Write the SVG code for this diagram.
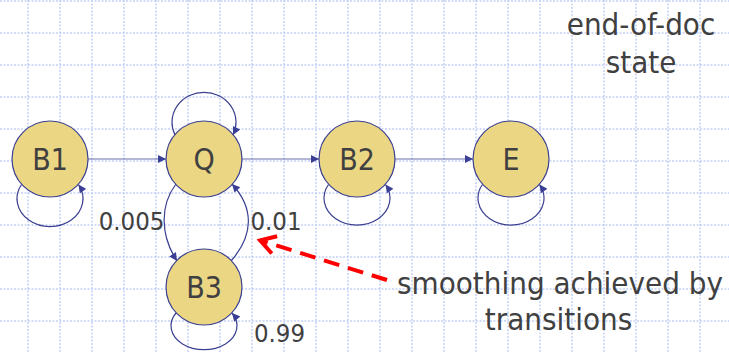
<svg xmlns="http://www.w3.org/2000/svg" width="729" height="352" viewBox="0 0 729 352">
<style>
.grid{stroke:#c4d0f6;stroke-width:1.5;stroke-dasharray:2 1.5;fill:none}
.node circle{fill:#ebd684;stroke:#3b4090;stroke-width:1.2}
.lbl{font-family:"DejaVu Sans Condensed","Liberation Sans",sans-serif;fill:#404040;text-anchor:middle}
.nl{font-size:30px}
.num{font-size:25.5px}
.big{font-size:31px}
.edge{fill:none;stroke:#3b4090;stroke-width:1.2;marker-end:url(#ah)}
.straight{stroke:#6a6fae}
.red{fill:none;stroke:#ff0000;stroke-width:4;stroke-dasharray:16 9;marker-end:url(#rh)}
</style>
<defs>
<marker id="ah" viewBox="0 0 10 10" refX="10" refY="5" markerUnits="userSpaceOnUse" markerWidth="9" markerHeight="8" orient="auto">
<path d="M0,0 L10,5 L0,10 z" fill="#3a3f95"/>
</marker>
<marker id="rh" viewBox="0 0 22 24" refX="16" refY="12" markerUnits="userSpaceOnUse" markerWidth="22" markerHeight="24" orient="auto">
<path d="M4,3 L19,12 L4,21" fill="none" stroke="#ff0000" stroke-width="4" stroke-linecap="butt" stroke-linejoin="miter"/>
</marker>
</defs>
<rect width="729" height="352" fill="#ffffff"/>
<g id="grid">
<path class="grid" d="M0,1H729M0,33H729M0,65H729M0,97H729M0,129H729M0,161H729M0,193H729M0,225H729M0,257H729M0,289H729M0,321H729"/>
<path class="grid" d="M28,0V352M60,0V352M92,0V352M124,0V352M156,0V352M188,0V352M220,0V352M252,0V352M284,0V352M316,0V352M348,0V352M380,0V352M412,0V352M444,0V352M476,0V352M508,0V352M540,0V352M572,0V352M604,0V352M636,0V352M668,0V352M700,0V352"/>
</g>
<g id="connectors">
<path class="edge straight" d="M88,159 L166,159"/>
<path class="edge straight" d="M242,159 L319,159"/>
<path class="edge straight" d="M395,159 L473,159"/>
<path class="edge" d="M21.5,184.5 A33 28 0 1 0 78.5,184.5"/>
<path class="edge" d="M175,135 A32 30 0 1 1 233,135"/>
<path class="edge" d="M328.5,184.5 A33 27 0 1 0 385.5,184.5"/>
<path class="edge" d="M482.5,184.5 A33 27 0 1 0 539.5,184.5"/>
<path class="edge" d="M176,313 A33 24 0 1 0 232,313"/>
<path class="edge" d="M176,184 C160,205 160,235 177,261"/>
<path class="edge" d="M231,261 C254,235 254,208 232,184"/>
<path class="red" d="M387,280 L263,241.3"/>
</g>
<g id="node-B1" class="node"><circle cx="50" cy="159" r="38"/><text class="lbl nl" x="50" y="170">B1</text></g>
<g id="node-Q" class="node"><circle cx="204" cy="159" r="38"/><text class="lbl nl" x="204" y="170">Q</text></g>
<g id="node-B2" class="node"><circle cx="357" cy="159" r="38"/><text class="lbl nl" x="357" y="170">B2</text></g>
<g id="node-E" class="node"><circle cx="511" cy="159" r="38"/><text class="lbl nl" x="511" y="170">E</text></g>
<g id="node-B3" class="node"><circle cx="204" cy="287" r="38"/><text class="lbl nl" x="204" y="298">B3</text></g>
<g id="labels">
<text class="lbl num" x="131.5" y="230">0.005</text>
<text class="lbl num" x="276" y="230">0.01</text>
<text class="lbl num" x="279.5" y="342">0.99</text>
<text class="lbl big" x="641" y="35">end-of-doc</text>
<text class="lbl big" x="641" y="73">state</text>
<text class="lbl big" x="560" y="294">smoothing achieved by</text>
<text class="lbl big" x="558.5" y="330">transitions</text>
</g>
</svg>
